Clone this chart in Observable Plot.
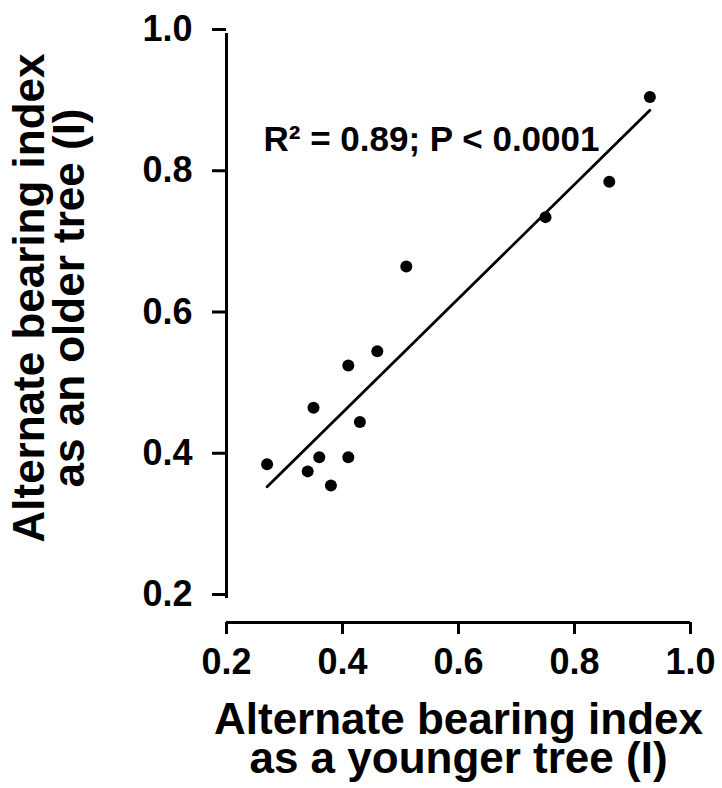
<!DOCTYPE html>
<html>
<head>
<meta charset="utf-8">
<script src="https://cdn.jsdelivr.net/npm/d3@7"></script>
<script src="https://cdn.jsdelivr.net/npm/@observablehq/plot@0.6"></script>
<style>
  html, body { margin: 0; padding: 0; background: #fff; }
  #chart svg { display: block; }
</style>
</head>
<body>
<div id="chart"></div>
<script>
// Alternate bearing index as a younger tree (x) vs as an older tree (y)
const youngerIndex = [0.93, 0.86, 0.75, 0.51, 0.46, 0.41, 0.35, 0.43, 0.27, 0.36, 0.41, 0.34, 0.38];
const olderIndex   = [0.91, 0.79, 0.74, 0.67, 0.55, 0.53, 0.47, 0.45, 0.39, 0.40, 0.40, 0.38, 0.36];
const xTicks = [0.2, 0.4, 0.6, 0.8, 1.0];
const yTicks = [0.2, 0.4, 0.6, 0.8, 1.0];
const xLabel = ["Alternate bearing index", "as a younger tree (I)"];
const yLabel = ["Alternate bearing index", "as an older tree (I)"];
const annotation = ["R² = 0.89; P < 0.0001"];

const data = youngerIndex.map((x, i) => ({x, y: olderIndex[i]}));
const fmt = d3.format(".1f");
const xMin = xTicks[0], xMax = xTicks[xTicks.length - 1];
const yMin = yTicks[0], yMax = yTicks[yTicks.length - 1];

const chart = Plot.plot({
  width: 722,
  height: 788,
  marginLeft: 226,
  marginRight: 32,
  marginTop: 33,
  marginBottom: 190,
  style: {fontFamily: "'Liberation Sans', Arial, sans-serif", fontWeight: "bold", color: "black", background: "white"},
  x: {domain: [xMin, xMax]},
  y: {domain: [yMin, yMax]},
  marks: [
    // y axis
    Plot.ruleX([xMin], {y1: yMin, y2: yMax, stroke: "black", strokeWidth: 3}),
    Plot.axisY({ticks: yTicks, tickFormat: fmt, tickSize: 14, tickPadding: 20, strokeWidth: 3, fontSize: 36, dy: -4, label: null}),
    // x axis (offset below the plot area)
    Plot.ruleY([yMin], {x1: xMin, x2: xMax, stroke: "black", strokeWidth: 3, dy: 24}),
    Plot.axisX({ticks: xTicks, tickFormat: fmt, tickSize: 12, tickPadding: 14, strokeWidth: 3, fontSize: 36, dy: 24, label: null}),
    // regression line
    Plot.linearRegressionY(data, {x: "x", y: "y", ci: 0, stroke: "black", strokeWidth: 2.8}),
    // points
    Plot.dot(data, {x: "x", y: "y", r: 6, fill: "black", stroke: null}),
    // annotation
    Plot.text(annotation, {frameAnchor: "top-left", text: d => d, dx: 37, dy: 117, lineAnchor: "bottom", textAnchor: "start", fontSize: 35, fill: "black"}),
    // axis labels
    Plot.text([xLabel.join("\n")], {frameAnchor: "bottom", text: d => d, dy: 107, lineAnchor: "top", textAnchor: "middle", lineHeight: 0.9, fontSize: 44, fill: "black"}),
    Plot.text([yLabel.join("\n")], {frameAnchor: "left", text: d => d, dx: -143, dy: -18, rotate: -90, lineAnchor: "bottom", textAnchor: "middle", lineHeight: 0.9, fontSize: 44, fill: "black"})
  ]
});
document.getElementById("chart").appendChild(chart);
</script>
</body>
</html>
